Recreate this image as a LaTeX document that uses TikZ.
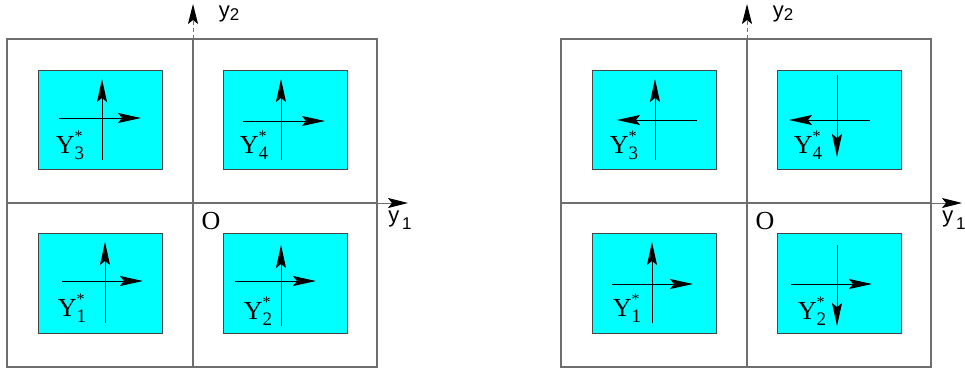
\documentclass[tikz,border=0pt]{standalone}
\usepackage{fontspec}
\setmainfont{Liberation Serif}
\newfontfamily\axfont{Liberation Sans}
\usetikzlibrary{arrows.meta}
\definecolor{cyanfill}{RGB}{0,255,255}
\definecolor{framegray}{RGB}{110,110,110}
\definecolor{boxgray}{RGB}{70,70,70}
\newcommand\Ylab[1]{Y\rlap{\raisebox{1.0ex}{\fontsize{16}{16}\selectfont *}}\raisebox{-0.5ex}{\fontsize{19}{19}\selectfont #1}}
\tikzset{
  frame/.style={draw=framegray,line width=1.1pt},
  cbox/.style={draw=boxgray,fill=cyanfill,line width=1pt},
  inarr/.style={draw=black,line width=1pt,-{Stealth[length=23pt,width=10pt,inset=4pt]}},
  axarr/.style={draw=framegray,line width=0.9pt,-{Stealth[length=20pt,width=10pt,inset=4pt,black]}},
  ylab/.style={font=\fontsize{26}{26}\selectfont},
  alab/.style={font=\axfont\fontsize{22}{22}\selectfont},
}
\begin{document}
\begin{tikzpicture}[x=1pt,y=-1pt]
\useasboundingbox (0,0) rectangle (965,368);
\foreach \s/\p in {0/L,554/R}{
\begin{scope}[xshift=\s pt]
  \node[frame,inner sep=0,minimum width=370pt,minimum height=328pt] (outer\p) at (192,203) {};
  \draw[frame] (193,39) -- (193,367);
  \draw[frame] (7,203) -- (377,203);
  \coordinate (y2s\p) at (193,39);
  \coordinate (y2e\p) at (193,4);
  \draw[axarr,dash pattern=on 4pt off 3pt] (y2s\p) -- (y2e\p);
  \coordinate (y1s\p) at (377,203);
  \coordinate (y1e\p) at (408,203);
  \draw[axarr] (y1s\p) -- (y1e\p);
  \node[alab] (y2l\p) at (229,14) {y\raisebox{-0.25ex}{\fontsize{17}{17}\selectfont 2}};
  \node[alab] (y1l\p) at (400,220) {y\raisebox{-0.6ex}{\fontsize{17}{17}\selectfont\,1}};
  \node[ylab] (O\p) at (211,221) {O};
  \node[cbox,inner sep=0,minimum width=124pt,minimum height=99pt] (b3\p) at (100,119.5) {};
  \node[cbox,inner sep=0,minimum width=124pt,minimum height=99pt] (b4\p) at (285,119.5) {};
  \node[cbox,inner sep=0,minimum width=124pt,minimum height=100pt] (b1\p) at (100,283) {};
  \node[cbox,inner sep=0,minimum width=124pt,minimum height=100pt] (b2\p) at (285,283) {};
\end{scope}}
% labels left
\node[ylab] (l3L) at (70,145) {\Ylab{3}};
\node[ylab] (l4L) at (254,145) {\Ylab{4}};
\node[ylab] (l1L) at (72,308) {\Ylab{1}};
\node[ylab] (l2L) at (258,311) {\Ylab{2}};
% labels right
\node[ylab] (l3R) at (624,145) {\Ylab{3}};
\node[ylab] (l4R) at (808,145) {\Ylab{4}};
\node[ylab] (l1R) at (627,308) {\Ylab{1}};
\node[ylab] (l2R) at (812,311) {\Ylab{2}};
% left panel arrows
\coordinate (a) at (102,160); \coordinate (b) at (102,79); \draw[inarr] (a) -- (b);
\coordinate (a) at (59,118); \coordinate (b) at (141,118); \draw[inarr] (a) -- (b);
\coordinate (a) at (281,160); \coordinate (b) at (281,79); \draw[inarr] (a) -- (b);
\coordinate (a) at (243,121); \coordinate (b) at (325,121); \draw[inarr] (a) -- (b);
\coordinate (a) at (105,323); \coordinate (b) at (105,242); \draw[inarr] (a) -- (b);
\coordinate (a) at (62,281); \coordinate (b) at (143,281); \draw[inarr] (a) -- (b);
\coordinate (a) at (281,326); \coordinate (b) at (281,245); \draw[inarr] (a) -- (b);
\coordinate (a) at (235,281); \coordinate (b) at (316,281); \draw[inarr] (a) -- (b);
% right panel arrows
\coordinate (a) at (655,160); \coordinate (b) at (655,79); \draw[inarr] (a) -- (b);
\coordinate (a) at (697,120); \coordinate (b) at (617,120); \draw[inarr] (a) -- (b);
\coordinate (a) at (837,75); \coordinate (b) at (837,157); \draw[inarr] (a) -- (b);
\coordinate (a) at (870,120); \coordinate (b) at (789,120); \draw[inarr] (a) -- (b);
\coordinate (a) at (652,323); \coordinate (b) at (652,242); \draw[inarr] (a) -- (b);
\coordinate (a) at (612,284); \coordinate (b) at (693,284); \draw[inarr] (a) -- (b);
\coordinate (a) at (837,245); \coordinate (b) at (837,326); \draw[inarr] (a) -- (b);
\coordinate (a) at (791,284); \coordinate (b) at (872,284); \draw[inarr] (a) -- (b);
\end{tikzpicture}
\end{document}
